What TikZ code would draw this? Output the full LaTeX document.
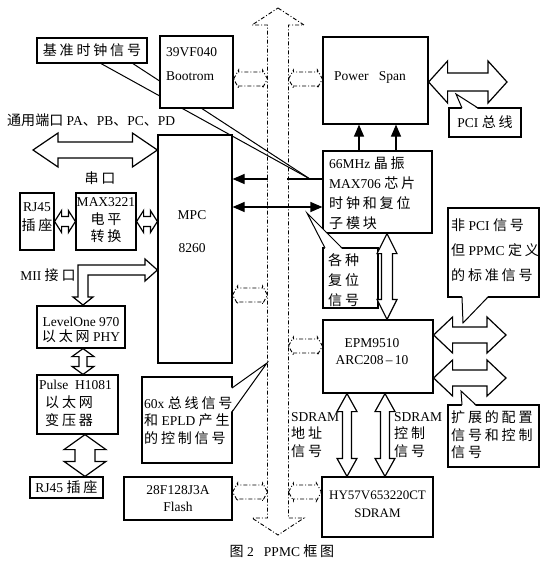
\documentclass[tikz,border=0pt]{standalone}
\usepackage{fontspec}
\setmainfont{Liberation Serif}
\newfontfamily\cjkf[LetterSpace=20,Scale=1.04]{Noto Sans CJK SC}
\newfontfamily\cjkn[Scale=1.04]{Noto Sans CJK SC}
\usetikzlibrary{arrows.meta,calc}
\newcommand\zh[1]{{\cjkf #1}}
\newcommand\zhn[1]{{\cjkn #1}}
% horizontal double arrow: style, left, right, shaft half, head half, head length
\newcommand\HDA[6]{\draw[#1] (#2) -- ($(#2)+(#6,-#5)$) -- ($(#2)+(#6,-#4)$) -- ($(#3)+(-#6,-#4)$) -- ($(#3)+(-#6,-#5)$) -- (#3) -- ($(#3)+(-#6,#5)$) -- ($(#3)+(-#6,#4)$) -- ($(#2)+(#6,#4)$) -- ($(#2)+(#6,#5)$) -- cycle;}
% vertical double arrow: style, top, bottom, shaft half, head half, head length
\newcommand\VDA[6]{\draw[#1] (#2) -- ($(#2)+(#5,#6)$) -- ($(#2)+(#4,#6)$) -- ($(#3)+(#4,-#6)$) -- ($(#3)+(#5,-#6)$) -- (#3) -- ($(#3)+(-#5,-#6)$) -- ($(#3)+(-#4,-#6)$) -- ($(#2)+(-#4,#6)$) -- ($(#2)+(-#5,#6)$) -- cycle;}
\tikzset{
  box/.style={draw, line width=1.2pt, fill=white, inner sep=0pt},
  lbl/.style={inner sep=0pt, align=left, font=\fontsize{13.5}{#1}\selectfont},
  lbl/.default=15,
  clbl/.style={inner sep=0pt, align=center, font=\fontsize{13.5}{#1}\selectfont},
  clbl/.default=15,
  dd/.style={line width=0.9pt, dash pattern=on 4pt off 2pt on 1pt off 2pt},
  big/.style={line width=1.2pt, fill=white, line join=miter},
  thin/.style={line width=1pt},
  tri/.style={line width=1.2pt, -{Triangle[length=12pt,width=10pt]}},
}
\begin{document}
\begin{tikzpicture}[x=1pt,y=-1pt]
\useasboundingbox (0,0) rectangle (547,565);
% ---------- central bus ----------
\coordinate (bt) at (278,8);
\coordinate (bb) at (278,535);
\VDA{dd}{bt}{bb}{10.5}{26}{17}
% ---------- callout pointer lines drawn under boxes ----------
\coordinate (clktip) at (310,179);
\draw[thin] (100,63) -- (clktip);
\draw[thin] (132,63) -- (clktip);
% ---------- boxes ----------
\node[box, minimum width=110pt, minimum height=25pt] (clk) at (92,50.5) {};
\node[box, minimum width=73pt, minimum height=72pt] (boot) at (196.5,72) {};
\node[box, minimum width=105pt, minimum height=87pt] (ps) at (375.5,80.5) {};
\node[box, minimum width=72pt, minimum height=29pt] (pci) at (485,122.5) {};
\node[box, minimum width=109pt, minimum height=82pt] (osc) at (377.5,192) {};
\node[box, minimum width=55pt, minimum height=60pt] (rst) at (350.5,278) {};
\node[box, minimum width=91pt, minimum height=89pt] (npci) at (493.5,252.5) {};
\node[box, minimum width=110pt, minimum height=73pt] (epm) at (378,356.5) {};
\node[box, minimum width=91pt, minimum height=62pt] (ext) at (493.5,436) {};
\node[box, minimum width=111pt, minimum height=60pt] (hy) at (377.5,507) {};
\node[box, minimum width=74pt, minimum height=228pt] (mpc) at (195,249) {};
\node[box, minimum width=34pt, minimum height=57pt] (rja) at (37,221.5) {};
\node[box, minimum width=60pt, minimum height=57pt] (max) at (106,221.5) {};
\node[box, minimum width=88pt, minimum height=42pt] (lxt) at (81,327) {};
\node[box, minimum width=81pt, minimum height=59pt] (pulse) at (77.5,404.5) {};
\node[box, minimum width=73pt, minimum height=21pt] (rjb) at (66.5,487.5) {};
\node[box, minimum width=90pt, minimum height=86pt] (c60) at (187,420) {};
\node[box, minimum width=108pt, minimum height=43pt] (flash) at (178,498.5) {};
% ---------- callout pointers ----------
\coordinate (pcitip) at (456,94);
\fill[white] (462,109) -- (pcitip) -- (478,109) -- cycle;
\draw[thin] (462,108) -- (pcitip) -- (478,108);
\coordinate (rsttip) at (307,213);
\fill[white] (325,249) -- (rsttip) -- (342,249) -- cycle;
\draw[thin] (325,248) -- (rsttip) -- (342,248);
\coordinate (npcitip) at (463,323);
\fill[white] (462,296) -- (npcitip) -- (488,296) -- cycle;
\draw[thin] (462,297) -- (npcitip) -- (488,297);
\coordinate (exttip) at (461,391);
\fill[white] (462,406) -- (exttip) -- (476,406) -- cycle;
\draw[thin] (462,405) -- (exttip) -- (476,405);
\coordinate (c60tip) at (267,363);
\fill[white] (231,388) -- (c60tip) -- (231,412) -- cycle;
\draw[thin] (232,388) -- (c60tip) -- (232,412);
% ---------- dashed bus links ----------
\coordinate (dl1) at (267.5,79);   \HDA{dd}{$(boot.east)+(0,7)$}{dl1}{7}{9}{5}
\coordinate (dl2) at (267.5,295);  \HDA{dd}{mpc.east |- dl2}{dl2}{7}{9}{5}
\coordinate (dl3) at (267.5,492);  \HDA{dd}{flash.east |- dl3}{dl3}{7}{9}{5}
\coordinate (dr1) at (288.5,79);   \HDA{dd}{dr1}{ps.west |- dr1}{7}{9}{5}
\coordinate (dr2) at (288.5,346);  \HDA{dd}{dr2}{epm.west |- dr2}{7}{9}{5}
\coordinate (dr3) at (288.5,492);  \HDA{dd}{dr3}{hy.west |- dr3}{7}{9}{5}
% ---------- big hollow arrows ----------
\coordinate (pciend) at (507,82);
\HDA{big}{ps.east |- pciend}{pciend}{9}{21}{19}
\coordinate (portend) at (33,150);
\HDA{big}{portend}{mpc.west |- portend}{8}{17}{25}
\HDA{big}{rja.east}{max.west}{5}{11}{7}
\HDA{big}{max.east}{mpc.west |- max.east}{5}{11}{7}
\coordinate (e1) at (506,335);
\HDA{big}{epm.east |- e1}{e1}{8}{18}{19}
\coordinate (e2) at (506,378);
\HDA{big}{epm.east |- e2}{e2}{8}{18}{19}
\VDA{big}{osc.south -| 387,0}{epm.north -| 387,0}{5.5}{10}{20}
\VDA{big}{epm.south -| 347,0}{hy.north -| 347,0}{4.5}{10}{18}
\VDA{big}{epm.south -| 385,0}{hy.north -| 385,0}{4.5}{10}{18}
\VDA{big}{lxt.south -| 83,0}{pulse.north -| 83,0}{4}{11}{8}
\VDA{big}{pulse.south -| 85,0}{rjb.north -| 85,0}{10}{21}{15}
% MII L-shaped arrow
\coordinate (miitip) at (mpc.west |- 0,270);
\draw[big] (miitip) -- (145,259) -- (145,265) -- (78,265) -- (78,297) -- (73,297) -- (83,305) -- (93,297) -- (88,297) -- (88,275) -- (145,275) -- (145,281) -- cycle;
% ---------- solid arrows ----------
\draw[tri] (osc.north -| 359,0) -- (ps.south -| 359,0);
\draw[tri] (osc.north -| 396,0) -- (ps.south -| 396,0);
\draw[line width=1.2pt] (osc.west |- 0,179) -- (287,179);
\draw[tri] (268,179) -- (mpc.east |- 0,179);
\draw[line width=1.2pt, {Triangle[length=12pt,width=10pt]}-{Triangle[length=12pt,width=10pt]}] (mpc.east |- 0,207) -- (osc.west |- 0,207);
% ---------- texts ----------
\node[clbl] (tclk) at (clk) {\zh{基准时钟信号}};
\node[lbl=24, anchor=west] (tboot) at (166,64) {39VF040\\Bootrom};
\node[clbl] (tps) at (370,77) {Power\ \ \ Span};
\node[clbl] (tpci) at (pci) {PCI \zh{总线}};
\node[lbl=20, anchor=west] (tosc) at (329,193) {66MHz \zh{晶振}\\MAX706 \zh{芯片}\\\zh{时钟和复位}\\\zh{子模块}};
\node[lbl=20, anchor=west] (trst) at (328,280) {\zh{各种}\\\zh{复位}\\\zh{信号}};
\node[lbl=25, anchor=west] (tnpci) at (451,250) {\zh{非} PCI \zh{信号}\\\zh{但} PPMC \zh{定义}\\\zh{的标准信号}};
\node[clbl=17, anchor=center] (tepm) at (372,351.5) {EPM9510\\ARC208\,--\,10};
\node[lbl=17.5, anchor=west] (text) at (451,435) {\zh{扩展的配置}\\\zh{信号和控制}\\\zh{信号}};
\node[lbl=17.5, anchor=west] (tsa) at (291,435) {SDRAM\\\zh{地址}\\\zh{信号}};
\node[lbl=17.5, anchor=west] (tsc) at (394,435) {SDRAM\\\zh{控制}\\\zh{信号}};
\node[clbl=18, font=\fontsize{13}{18}\selectfont] (thy) at (377.5,504) {HY57V653220CT\\SDRAM};
\node[clbl=33] (tmpc) at (192,231.5) {MPC\\8260};
\node[clbl=19] (trja) at (37,217.5) {RJ45\\\zh{插座}};
\node[clbl=17.5] (tmax) at (106,220.5) {MAX3221\\\zh{电平}\\\zh{转换}};
\node[lbl, anchor=west] (tport) at (7,120) {\zhn{通用端口} PA\zhn{、}PB\zhn{、}PC\zhn{、}PD};
\node[clbl] (tser) at (100,178) {\zh{串口}};
\node[clbl] (tmii) at (48,275) {MII \zh{接口}};
\node[clbl=15] (tlxt) at (81,330) {LevelOne 970\\\zh{以太网} PHY};
\node[lbl=18, anchor=north west] (tpulse) at (39,380) {Pulse\ \ H1081\\\hspace*{6pt}\zh{以太网}\\\hspace*{6pt}\zh{变压器}};
\node[clbl] (trjb) at (rjb) {RJ45 \zh{插座}};
\node[lbl=17.5, anchor=west] (tc60) at (144,420.5) {60x \zh{总线信号}\\\zh{和} EPLD \zh{产生}\\\zh{的控制信号}};
\node[clbl=17] (tflash) at (178,498.5) {28F128J3A\\Flash};
\node[clbl] (tcap) at (282,551) {\zh{图} 2\ \ \ PPMC \zh{框图}};
\end{tikzpicture}
\end{document}
